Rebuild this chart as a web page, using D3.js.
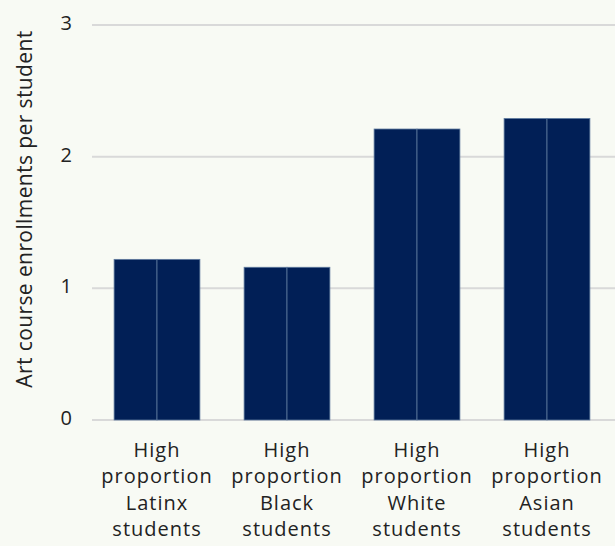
<!DOCTYPE html>
<html>
<head>
<meta charset="utf-8">
<script src="https://cdn.jsdelivr.net/npm/d3@7"></script>
<style>
  html, body { margin: 0; padding: 0; background: #f8faf4; }
  svg { display: block; font-family: "Open Sans", sans-serif; }
</style>
</head>
<body>
<svg id="chart" width="615" height="546"></svg>
<script>
// Art course enrollments per student, by school student composition
const categories = [
  ["High", "proportion", "Latinx", "students"],
  ["High", "proportion", "Black", "students"],
  ["High", "proportion", "White", "students"],
  ["High", "proportion", "Asian", "students"]
];
const values = [1.22, 1.16, 2.21, 2.29];
const yTicks = [0, 1, 2, 3];
const yTitle = "Art course enrollments per student";

const FONT = "'Open Sans', sans-serif";
const svg = d3.select("#chart");
const W = 615, H = 546;
const margin = { top: 25, right: 3, bottom: 126, left: 92 };

const keys = categories.map((c, i) => i);

const x = d3.scaleBand()
  .domain(keys)
  .range([margin.left, W - margin.right])
  .paddingInner(0.34)
  .paddingOuter(0.17);

const y = d3.scaleLinear()
  .domain([0, 3])
  .range([H - margin.bottom, margin.top]);

// horizontal gridlines
svg.append("g")
  .selectAll("line")
  .data(yTicks)
  .join("line")
  .attr("x1", margin.left)
  .attr("x2", W)
  .attr("y1", d => y(d))
  .attr("y2", d => y(d))
  .attr("stroke", "#d9d9d9")
  .attr("stroke-width", 2);

// y-axis tick labels
const yAxis = d3.axisLeft(y).tickValues(yTicks).tickSize(0).tickPadding(0).tickFormat(d3.format("d"));
const gy = svg.append("g")
  .attr("transform", `translate(${margin.left - 20},-2)`)
  .call(yAxis);
gy.select(".domain").remove();
gy.selectAll("text")
  .attr("font-family", FONT)
  .attr("font-size", 20)
  .attr("fill", "#222");

// bars, each drawn as two halves with a thin light outline
const barG = svg.append("g");
values.forEach((v, i) => {
  const x0 = x(i), bw = x.bandwidth();
  [0, 1].forEach(h => {
    barG.append("rect")
      .attr("x", x0 + h * bw / 2)
      .attr("y", y(v))
      .attr("width", bw / 2)
      .attr("height", y(0) - y(v))
      .attr("fill", "#011f56")
      .attr("stroke", "#5f7a9e")
      .attr("stroke-width", 0.8);
  });
});

// category labels
const xAxis = d3.axisBottom(x).tickSize(0).tickFormat(() => "");
const gx = svg.append("g")
  .attr("transform", `translate(0,${y(0)})`)
  .call(xAxis);
gx.select(".domain").remove();
gx.selectAll(".tick text").remove();
gx.selectAll(".tick").each(function(d) {
  const t = d3.select(this).append("text")
    .attr("text-anchor", "middle")
    .attr("font-family", FONT)
    .attr("font-size", 20)
    .attr("letter-spacing", 1.0)
    .attr("fill", "#222");
  categories[d].forEach((line, j) => {
    t.append("tspan")
      .attr("x", 0)
      .attr("y", 37 + j * 26.3)
      .text(line);
  });
});

// y-axis title
svg.append("text")
  .attr("transform", `translate(32,209) rotate(-90)`)
  .attr("text-anchor", "middle")
  .attr("font-family", FONT)
  .attr("font-size", 21)
  .attr("letter-spacing", 0.4)
  .attr("fill", "#222")
  .text(yTitle);
</script>
</body>
</html>
